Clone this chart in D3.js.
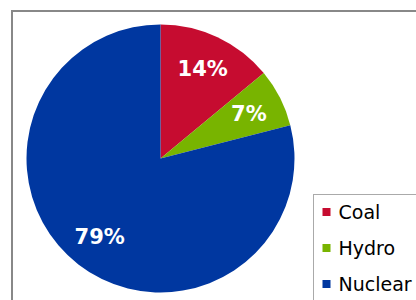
<!DOCTYPE html>
<html>
<head>
<meta charset="utf-8">
<script src="https://cdn.jsdelivr.net/npm/d3@7"></script>
<style>
  html, body { margin: 0; padding: 0; background: #fff; }
  svg { display: block; }
</style>
</head>
<body>
<svg id="chart" width="416" height="300"></svg>
<script>
// Data
const categories = ['Coal', 'Hydro', 'Nuclear'];
const shares = [14, 7, 79];
const colors = ['#c60c30', '#78b400', '#0037a0'];

const width = 416;
const height = 300;
const cx = 160.5;
const cy = 158.5;
const radius = 134;

const svg = d3.select('#chart');

// Outer chart frame (bottom and right run past the window)
svg.append('rect')
  .attr('x', 12)
  .attr('y', 11)
  .attr('width', 420)
  .attr('height', 310)
  .attr('fill', '#fff')
  .attr('stroke', '#888')
  .attr('stroke-width', 2);

const pie = d3.pie().sort(null).value(d => d.value);
const arcs = pie(categories.map((c, i) => ({ name: c, value: shares[i], color: colors[i] })));

const arc = d3.arc().innerRadius(0).outerRadius(radius);
const labelArc = d3.arc().innerRadius(radius * 0.74).outerRadius(radius * 0.74);

const g = svg.append('g').attr('transform', `translate(${cx},${cy})`);

g.selectAll('path.slice')
  .data(arcs)
  .join('path')
  .attr('class', 'slice')
  .attr('d', arc)
  .attr('fill', d => d.data.color);

g.selectAll('text.pct')
  .data(arcs)
  .join('text')
  .attr('class', 'pct')
  .attr('transform', d => `translate(${labelArc.centroid(d)})`)
  .attr('text-anchor', 'middle')
  .attr('dy', '0.36em')
  .attr('fill', '#fff')
  .attr('font-family', 'Verdana, "DejaVu Sans", sans-serif')
  .attr('font-weight', 'bold')
  .attr('font-size', '21px')
  .text(d => d.data.value + '%');

// Legend
const legend = svg.append('g').attr('transform', 'translate(313.5,194.5)');
legend.append('rect')
  .attr('width', 120)
  .attr('height', 120)
  .attr('fill', '#fff')
  .attr('stroke', '#aaa')
  .attr('stroke-width', 1);

const rowY = d3.scalePoint().domain(categories).range([17.5, 89.5]);

const items = legend.selectAll('g.item')
  .data(categories)
  .join('g')
  .attr('class', 'item')
  .attr('transform', d => `translate(0,${rowY(d)})`);

items.append('rect')
  .attr('x', 9)
  .attr('y', -4)
  .attr('width', 8)
  .attr('height', 8)
  .attr('fill', (d, i) => colors[i]);

items.append('text')
  .attr('x', 25)
  .attr('dy', '0.36em')
  .attr('fill', '#000')
  .attr('font-family', 'Verdana, "DejaVu Sans", sans-serif')
  .attr('font-size', '19px')
  .text(d => d);
</script>
</body>
</html>
